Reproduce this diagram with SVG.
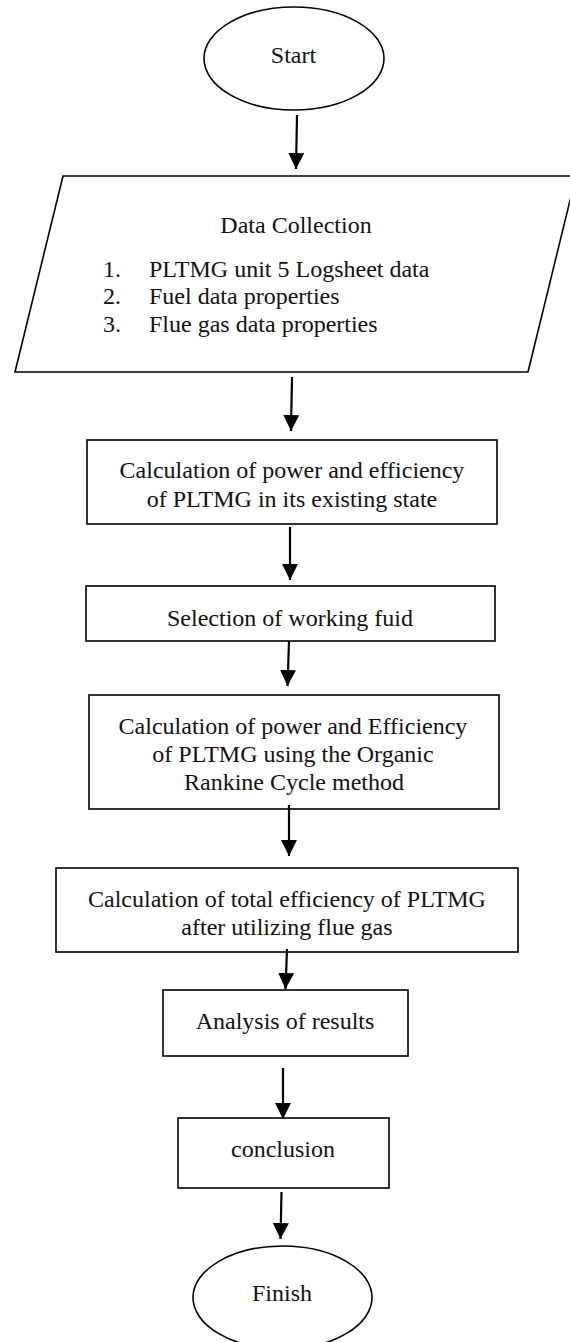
<svg xmlns="http://www.w3.org/2000/svg" width="570" height="1342" viewBox="0 0 570 1342">
<style>
  .shape { fill: #ffffff; stroke: #000000; stroke-width: 1.6; }
  .conn { stroke: #000000; stroke-width: 2.2; fill: none; }
  text { font-family: "Liberation Serif", "Times New Roman", serif; font-size: 24px; fill: #111111; }
  .c { text-anchor: middle; }
</style>
<defs>
  <marker id="arrow" markerUnits="userSpaceOnUse" markerWidth="16" markerHeight="16" viewBox="0 0 16 16" refX="16" refY="8" orient="auto">
    <path d="M0,0 L16,8 L0,16 z" fill="#000000"/>
  </marker>
</defs>
<rect x="0" y="0" width="570" height="1342" fill="#ffffff"/>

<g id="start">
  <ellipse class="shape" cx="294" cy="58.5" rx="90" ry="51.5"/>
  <text class="c" x="293.5" y="63">Start</text>
</g>

<g id="data-collection">
  <polygon class="shape" points="63,176 576,176 528,372 15,372"/>
  <text class="c" x="296" y="233">Data Collection</text>
  <text x="103" y="277">1.</text>
  <text x="149" y="277">PLTMG unit 5 Logsheet data</text>
  <text x="103" y="304">2.</text>
  <text x="149" y="304">Fuel data properties</text>
  <text x="103" y="332">3.</text>
  <text x="149" y="332">Flue gas data properties</text>
</g>

<g id="calc-existing">
  <rect class="shape" x="87" y="440" width="410" height="84"/>
  <text class="c" x="292" y="478">Calculation of power and efficiency</text>
  <text class="c" x="292" y="507">of PLTMG in its existing state</text>
</g>

<g id="selection">
  <rect class="shape" x="86" y="586" width="409" height="55"/>
  <text class="c" x="290" y="626">Selection of working fuid</text>
</g>

<g id="calc-orc">
  <rect class="shape" x="89" y="695" width="410" height="114"/>
  <text class="c" x="293" y="734">Calculation of power and Efficiency</text>
  <text class="c" x="293" y="762">of PLTMG using the Organic</text>
  <text class="c" x="294" y="790">Rankine Cycle method</text>
</g>

<g id="calc-total">
  <rect class="shape" x="56" y="868" width="462" height="84"/>
  <text class="c" x="287" y="907">Calculation of total efficiency of PLTMG</text>
  <text class="c" x="287" y="935">after utilizing flue gas</text>
</g>

<g id="analysis">
  <rect class="shape" x="163" y="990" width="245" height="66"/>
  <text class="c" x="285" y="1029">Analysis of results</text>
</g>

<g id="conclusion">
  <rect class="shape" x="178" y="1118" width="211" height="70"/>
  <text class="c" x="283" y="1157">conclusion</text>
</g>

<g id="finish">
  <ellipse class="shape" cx="282.5" cy="1297.5" rx="89.5" ry="51.5"/>
  <text class="c" x="282" y="1301">Finish</text>
</g>

<g id="connectors">
  <line class="conn" x1="297" y1="115" x2="296" y2="169" marker-end="url(#arrow)"/>
  <line class="conn" x1="292" y1="377" x2="291" y2="431" marker-end="url(#arrow)"/>
  <line class="conn" x1="290" y1="527" x2="290" y2="580" marker-end="url(#arrow)"/>
  <line class="conn" x1="289" y1="641" x2="287.5" y2="686" marker-end="url(#arrow)"/>
  <line class="conn" x1="289" y1="805" x2="289" y2="856" marker-end="url(#arrow)"/>
  <line class="conn" x1="287" y1="949" x2="285.5" y2="989" marker-end="url(#arrow)"/>
  <line class="conn" x1="283" y1="1068" x2="283" y2="1119" marker-end="url(#arrow)"/>
  <line class="conn" x1="281.5" y1="1192" x2="280.5" y2="1239" marker-end="url(#arrow)"/>
</g>
</svg>
